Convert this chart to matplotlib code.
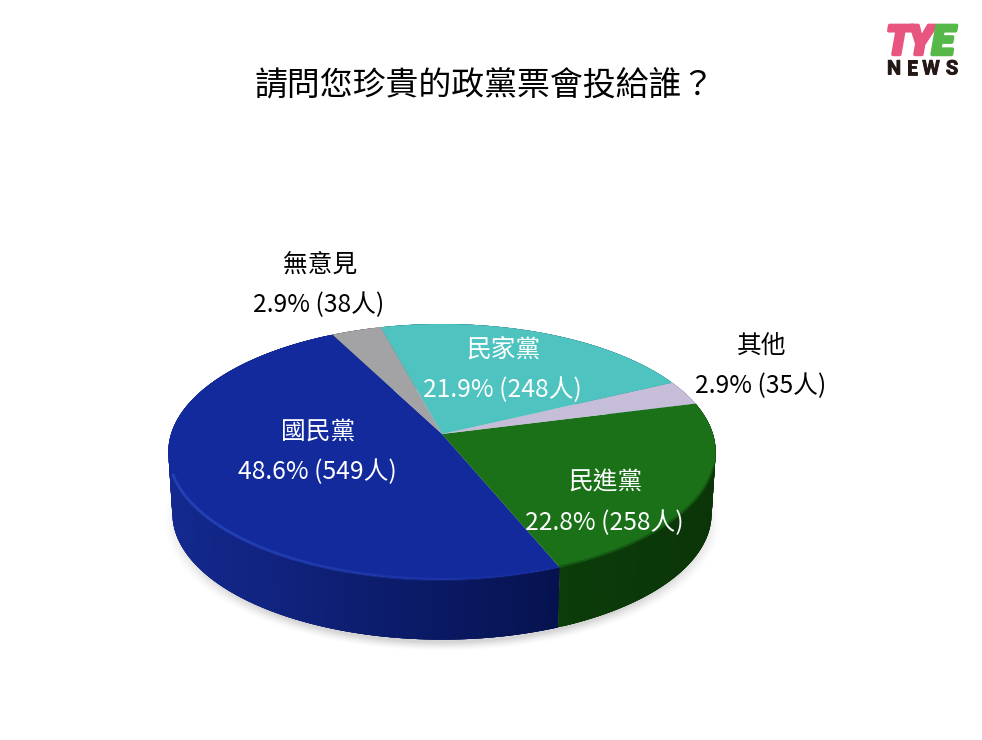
import numpy as np
import matplotlib
matplotlib.use('Agg')
import matplotlib.pyplot as plt
import matplotlib.patheffects as pe
from matplotlib.collections import PolyCollection, LineCollection
from matplotlib.colors import to_rgb
from matplotlib.transforms import Transform

plt.rcParams['font.family'] = ['Noto Sans CJK TC', 'DejaVu Sans']

# data, same order as the slices go round
parties = ['國民黨', '民進黨', '其他', '民家黨', '無意見']
people = [549, 258, 35, 248, 38]
percents = ['48.6%', '22.8%', '2.9%', '21.9%', '2.9%']
top_colors = ['#132a9c', '#1a7118', '#c6bdd9', '#4fc3c0', '#a3a3a5']
side_left = ['#14298f', '#0c3c0a', '#8f88a0', '#348a88', '#707072']
side_right = ['#06124f', '#0b3508', '#8f88a0', '#348a88', '#707072']
title = '請問您珍貴的政黨票會投給誰？'

# pie tilt (pixels of the picture)
VX, VY = 442, 434
A, B, K = 125.4, 271, 0.14
DEPTH = 62
BOTTOM_SCALE = 0.985


def tilt(x, y, dy=0.0, scale=1.0):
  w = 1 + K * y
  return VX + scale * B * x / w, VY + dy - scale * A * y / w


class TiltTransform(Transform):
  input_dims = output_dims = 2
  has_inverted = False

  def transform_non_affine(self, values):
    xs, ys = tilt(values[:, 0], values[:, 1])
    return np.column_stack([xs, ys])


fig = plt.figure(figsize=(9.82, 7.40), dpi=100)
ax = fig.add_axes([0, 0, 1, 1])

wedges, _ = ax.pie(people, colors=top_colors, startangle=117, counterclock=True,
                   radius=1, center=(0, 0), wedgeprops={'linewidth': 0, 'zorder': 5})
ax.axis('off')

tf = TiltTransform() + ax.transData
for w in wedges:
  w.set_transform(tf)

# soft shadow under the disc
gx, gy = np.meshgrid(np.arange(982), np.arange(740))
d = np.sqrt(((gx - 442) / 279.0)**2 + ((gy - 521) / 130.0)**2)
alpha = 0.30 * np.clip((1.0 - d) / 0.07, 0, 1)**1.5
shadow = np.zeros((740, 982, 4))
shadow[..., :3] = 0.45
shadow[..., 3] = alpha
ax.imshow(shadow, extent=(0, 982, 740, 0), aspect='auto', zorder=1, interpolation='bilinear')
ax.set_aspect('auto')
ax.set_xlim(0, 982)
ax.set_ylim(740, 0)

# rim of the disc, overlapping quads shaded from left to right
for w, c0, c1 in zip(wedges, side_left, side_right):
  t = np.radians(np.arange(w.theta1, w.theta2 + 0.5, 0.5))
  t[-1] = np.radians(w.theta2)
  x, y = np.cos(t), np.sin(t)
  xt, yt = tilt(x, y)
  xb, yb = tilt(x, y, DEPTH, BOTTOM_SCALE)
  polys = []
  cols = []
  c0, c1 = np.array(to_rgb(c0)), np.array(to_rgb(c1))
  x0, x1 = xt.min(), xt.max()
  for i in range(len(t) - 1):
    j = min(i + 4, len(t) - 1)
    polys.append([(xt[i], yt[i]), (xt[j], yt[j]), (xb[j], yb[j]), (xb[i], yb[i])])
    f = (xt[i] - x0) / max(x1 - x0, 1)
    cols.append(c0 + (c1 - c0) * f)
  ax.add_collection(PolyCollection(polys, facecolors=cols, edgecolors='none', linewidths=0, zorder=2))

# bevel along the front edge of the top, fading out to the right
t = np.radians(np.linspace(198, 290, 240))
xt, yt = tilt(np.cos(t), np.sin(t))
segs = [[(xt[i], yt[i] - 0.5), (xt[i + 1], yt[i + 1] - 0.5)] for i in range(len(t) - 1)]
fade = np.clip(np.sin((t[:-1] - t[0]) / (t[-1] - t[0]) * np.pi * 0.5 + np.pi * 0.5), 0.1, 1)
rgba = [(0.17, 0.29, 0.76, 0.75 * v) for v in fade]
ax.add_collection(LineCollection(segs, colors=rgba, linewidths=2.2, zorder=6))

t = np.radians(np.linspace(292, 345, 100))
xt, yt = tilt(np.cos(t), np.sin(t))
ax.plot(xt, yt - 0.5, color='#0f4a0d', lw=2.0, alpha=0.6, zorder=6, solid_capstyle='butt')

ax.text(485, 86, title, fontsize=23.7, ha='center', va='center', color='black', weight='medium')

# labels
label_pos = [(318, 431.5), (605, 482.5), (762, 345.5), (503, 349.5), (320, 264.5)]
label_col = ['white', 'white', 'black', 'white', 'black']
for name, n, pct, (lx, ly), col in zip(parties, people, percents, label_pos, label_col):
  ax.text(lx, ly, name, fontsize=17.8, ha='center', va='center', color=col, zorder=8, weight='medium')
  ax.text(lx - 1, ly + 40.5, f'{pct} ({n}人)', fontsize=17.8, ha='center', va='center', color=col,
          zorder=8, weight='medium')

# logo
logo_letters = ['T', 'Y', 'E']
logo_x = [886, 908, 932]
logo_cols = ['#e8557f', '#e8557f', '#55b848']
for ch, lx, col in zip(logo_letters, logo_x, logo_cols):
  ax.text(lx, 54.5, ch, fontsize=29.5, family='Roboto', weight='black', style='italic', color=col,
          ha='left', va='baseline', zorder=8,
          path_effects=[pe.withStroke(linewidth=2.5, foreground=col)])
for ch, lx in zip('NEWS', [894, 912, 931, 952]):
  ax.text(lx, 74.5, ch, fontsize=14.5, family='Roboto', weight='bold', color='#231815',
          ha='center', va='baseline', zorder=8,
          path_effects=[pe.withStroke(linewidth=0.6, foreground='#231815')])

fig.savefig('out.png', dpi=100)
